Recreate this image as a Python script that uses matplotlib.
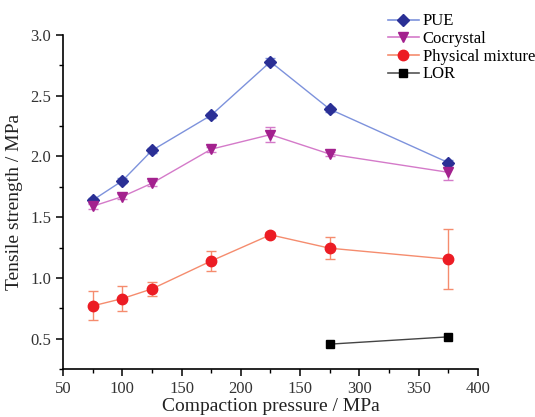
import numpy as np
import matplotlib.pyplot as plt
from matplotlib.lines import Line2D
from matplotlib.ticker import MultipleLocator

plt.rcParams['font.family'] = ['Liberation Serif', 'DejaVu Serif']

pressure = [75, 100, 125, 175, 225, 275, 375]
pue = [1.64, 1.80, 2.05, 2.34, 2.78, 2.39, 1.95]
pue_err = [0.02, 0.02, 0.02, 0.02, 0.03, 0.02, 0.02]
cocrystal = [1.59, 1.67, 1.78, 2.06, 2.18, 2.02, 1.87]
cocrystal_err = [0.02, 0.02, 0.02, 0.02, 0.06, 0.02, 0.06]
mixture = [0.77, 0.83, 0.91, 1.14, 1.355, 1.245, 1.155]
mixture_err = [0.12, 0.10, 0.06, 0.08, 0.02, 0.09, 0.25]
lor_pressure = [275, 375]
lor = [0.455, 0.515]

xtick_values = [50, 100, 150, 200, 250, 300, 350, 400]
xtick_labels = ['50', '100', '150', '200', '150', '300', '350', '400']

fig = plt.figure(figsize=(5.35, 4.17), dpi=100)
ax = fig.add_axes([0.118, 0.115, 0.775, 0.801])

series = [
    ("PUE", pressure, pue, pue_err, 'D', '#2a2f95', '#7d92dc', 6.5),
    ("Cocrystal", pressure, cocrystal, cocrystal_err, 'v', '#a3218e', '#d47ac9', 7.5),
    ("Physical mixture", pressure, mixture, mixture_err, 'o', '#ec1c24', '#f58c6e', 7.5),
]
handles = []
for name, x, y, err, m, mc, lc, ms in series:
    ax.errorbar(x, y, yerr=err, fmt='-', marker=m, color=lc, mfc=mc, mec=mc,
                ms=ms, lw=1.0, elinewidth=1.0, ecolor=lc, capsize=3.5, capthick=1.0)
    handles.append(Line2D([], [], color=lc, marker=m, mfc=mc, mec=mc, ms=ms, lw=1.2, label=name))
ax.plot(lor_pressure, lor, '-', marker='s', color='#444444', mfc='black', mec='black',
        ms=6, lw=1.0)
handles.append(Line2D([], [], color='#555555', marker='s', mfc='black', mec='black',
                      ms=6, lw=1.2, label="LOR"))

ax.set_xlim(50, 400)
ax.set_ylim(0.25, 3.0)
ax.set_xticks(xtick_values)
ax.set_xticklabels(xtick_labels)
ax.xaxis.set_minor_locator(MultipleLocator(25))
ax.set_yticks([0.5, 1.0, 1.5, 2.0, 2.5, 3.0])
ax.yaxis.set_minor_locator(MultipleLocator(0.25))
ax.yaxis.set_major_formatter(plt.FormatStrFormatter('%.1f'))

for s in ['top', 'right']:
    ax.spines[s].set_visible(False)
for s in ['left', 'bottom']:
    ax.spines[s].set_linewidth(1.2)
ax.tick_params(which='major', direction='out', length=5, width=1.1, labelsize=12, colors='black')
ax.tick_params(which='minor', direction='out', length=3, width=1.0)
for t in ax.get_xticklabels() + ax.get_yticklabels():
    t.set_color('#333333')

ax.set_xlabel("Compaction pressure / MPa", fontsize=14, color='#222222', labelpad=1)
ax.set_ylabel("Tensile strength / MPa", fontsize=14, color='#222222', labelpad=5)

fig.legend(handles=handles, loc='upper left', bbox_to_anchor=(0.712, 0.984),
           frameon=False, fontsize=12, handlelength=1.9, handletextpad=0.2,
           labelspacing=0.1, borderaxespad=0)

fig.savefig("out.png", dpi=100)
